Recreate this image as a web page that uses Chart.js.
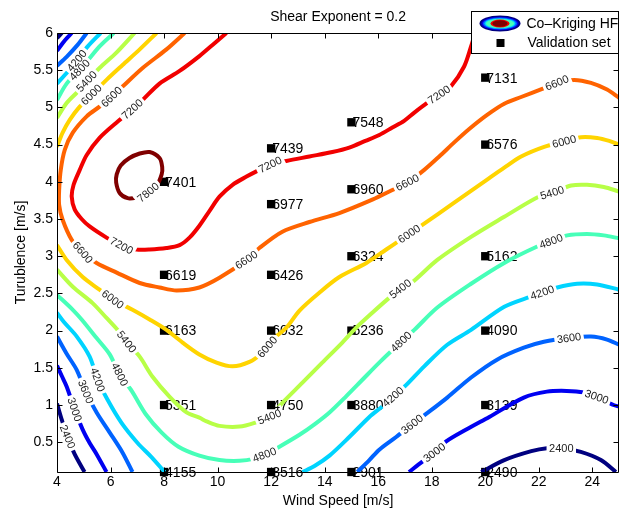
<!DOCTYPE html>
<html>
<head>
<meta charset="utf-8">
<title>Shear Exponent = 0.2</title>
<script src="https://cdn.jsdelivr.net/npm/chart.js@4.4.0/dist/chart.umd.min.js"></script>
<style>
  html, body { margin: 0; padding: 0; background: #fff; }
  #wrap { width: 625px; height: 511px; }
</style>
</head>
<body>
<div id="wrap"><canvas id="chart" width="625" height="511"></canvas></div>
<script>
// ---- axis ticks ----
const xTicks = [4, 6, 8, 10, 12, 14, 16, 18, 20, 22, 24];
const yTicks = [0.5, 1, 1.5, 2, 2.5, 3, 3.5, 4, 4.5, 5, 5.5, 6];

// ---- contour levels (power, kW) ----
const levels = [2400, 3000, 3600, 4200, 4800, 5400, 6000, 6600, 7200, 7800];

// contour polylines per level: [wind speed, turbulence]
const contour2400 = [
  [[4.18, 6.0], [4.0, 5.93]],
  [[4.0, 1.02], [4.18, 0.80], [4.36, 0.60], [4.66, 0.34], [5.03, 0.1]],
  [[19.85, 0.1], [20.71, 0.26], [21.72, 0.38], [22.3, 0.42], [22.84, 0.42], [23.57, 0.37], [24.32, 0.26], [24.88, 0.1]]
];
const contour3000 = [
  [[4.55, 6.0], [4.29, 5.90], [4.0, 5.76]],
  [[4.0, 1.53], [4.18, 1.39], [4.36, 1.25], [4.66, 0.94], [4.96, 0.67], [5.22, 0.49], [5.48, 0.34], [5.85, 0.1]],
  [[17.15, 0.1], [17.65, 0.24], [18.10, 0.36], [18.54, 0.51], [19.29, 0.67], [20.15, 0.84], [21.44, 1.10], [22.30, 1.18], [23.04, 1.19], [23.68, 1.17], [24.16, 1.11], [24.79, 1.00], [25.0, 0.98]]
];
const contour3600 = [
  [[5.11, 6.0], [4.77, 5.84], [4.36, 5.68], [4.0, 5.56]],
  [[4.0, 1.92], [4.36, 1.69], [4.74, 1.47], [5.07, 1.18], [5.48, 0.90], [5.97, 0.63], [6.45, 0.36], [6.82, 0.1]],
  [[15.22, 0.1], [15.67, 0.26], [16.04, 0.40], [16.67, 0.57], [17.27, 0.74], [17.79, 0.88], [18.58, 1.10], [19.47, 1.37], [20.44, 1.61], [21.44, 1.77], [22.19, 1.85], [23.13, 1.90], [23.95, 1.92], [24.55, 1.88], [25.0, 1.81]]
];
const contour4200 = [
  [[5.63, 6.0], [5.15, 5.82], [4.77, 5.64], [4.40, 5.48], [4.0, 5.32]],
  [[4.0, 2.24], [4.25, 2.12], [4.74, 1.92], [5.22, 1.65], [5.52, 1.34], [5.89, 1.07], [6.41, 0.76], [7.01, 0.49], [7.53, 0.30], [8.02, 0.1]],
  [[13.17, 0.1], [13.62, 0.18], [14.18, 0.32], [14.92, 0.57], [15.67, 0.84], [16.15, 0.98], [16.56, 1.11], [17.05, 1.27], [17.72, 1.52], [18.58, 1.81], [19.47, 2.01], [20.71, 2.32], [21.72, 2.46], [22.13, 2.51], [22.69, 2.58], [23.43, 2.63], [24.18, 2.62], [25.0, 2.55]]
];
const contour4800 = [
  [[6.12, 6.0], [5.59, 5.82], [4.92, 5.53], [4.36, 5.32], [4.0, 5.10]],
  [[4.0, 2.48], [4.59, 2.28], [4.92, 2.15], [5.48, 1.90], [5.97, 1.68], [6.34, 1.41], [6.79, 1.19], [7.31, 0.88], [7.91, 0.63], [8.54, 0.44], [9.32, 0.32], [10.07, 0.26], [10.82, 0.25], [11.38, 0.28], [11.75, 0.33], [12.31, 0.44], [13.06, 0.60], [13.62, 0.74], [14.18, 0.90], [14.81, 1.12], [15.41, 1.34], [16.04, 1.57], [16.86, 1.85], [17.35, 2.01], [18.21, 2.31], [19.47, 2.63], [20.71, 2.91], [21.94, 3.13], [22.46, 3.20], [23.06, 3.28], [23.80, 3.30], [24.43, 3.28], [25.0, 3.24]]
];
const contour5400 = [
  [[6.90, 6.0], [6.23, 5.74], [5.59, 5.53], [5.11, 5.35], [4.74, 5.20], [4.36, 5.06], [4.0, 4.86]],
  [[4.0, 2.82], [4.59, 2.59], [5.33, 2.37], [5.85, 2.17], [6.26, 2.01], [6.60, 1.85], [7.09, 1.65], [7.57, 1.38], [8.21, 1.11], [8.84, 0.90], [9.32, 0.83], [9.59, 0.78], [10.07, 0.72], [10.82, 0.71], [11.38, 0.76], [11.94, 0.84], [12.42, 1.03], [13.17, 1.30], [13.91, 1.57], [14.66, 1.84], [15.18, 2.04], [15.78, 2.24], [16.41, 2.44], [16.83, 2.56], [17.24, 2.64], [18.21, 2.95], [19.47, 3.26], [20.71, 3.53], [21.94, 3.79], [22.50, 3.85], [23.21, 3.95], [23.80, 3.96], [24.43, 3.93], [25.0, 3.87]]
];
const contour6000 = [
  [[7.72, 6.0], [7.09, 5.78], [6.45, 5.57], [5.85, 5.37], [5.29, 5.17], [4.85, 5.01], [4.47, 4.83], [4.21, 4.66], [4.0, 4.47]],
  [[4.0, 3.15], [4.36, 2.95], [4.96, 2.72], [5.59, 2.55], [6.08, 2.42], [6.82, 2.28], [7.46, 2.15], [8.09, 2.01], [8.69, 1.84], [9.32, 1.68], [9.96, 1.57], [10.56, 1.52], [11.19, 1.58], [11.64, 1.69], [11.86, 1.78], [12.12, 1.90], [12.57, 2.04], [13.06, 2.27], [13.80, 2.51], [14.55, 2.72], [15.56, 2.91], [16.30, 3.09], [16.79, 3.21], [17.16, 3.30], [17.65, 3.42], [18.84, 3.72], [20.07, 4.03], [20.71, 4.19], [21.34, 4.34], [22.20, 4.47], [22.95, 4.54], [23.58, 4.60], [24.18, 4.59], [24.63, 4.55], [25.0, 4.50]]
];
const contour6600 = [
  [[8.77, 6.0], [8.09, 5.78], [7.20, 5.53], [6.45, 5.28], [6.04, 5.14], [5.59, 5.01], [5.11, 4.88], [4.59, 4.66], [4.29, 4.43], [4.14, 4.16], [4.08, 3.89], [4.08, 3.69], [4.21, 3.49], [4.55, 3.22], [4.96, 3.05], [5.48, 2.91], [6.23, 2.78], [7.09, 2.64], [7.83, 2.58], [8.47, 2.54], [9.32, 2.58], [10.07, 2.71], [11.08, 2.95], [11.56, 3.11], [12.42, 3.33], [13.43, 3.46], [14.55, 3.58], [15.78, 3.76], [16.53, 3.89], [17.09, 3.99], [17.72, 4.16], [18.28, 4.34], [18.84, 4.53], [19.40, 4.71], [20.07, 4.90], [20.71, 5.05], [21.34, 5.14], [22.20, 5.26], [22.68, 5.33], [23.32, 5.37], [23.95, 5.33], [24.55, 5.24], [25.0, 5.13]]
];
const contour7200 = [
  [[10.33, 6.0], [9.81, 5.84], [9.32, 5.69], [8.58, 5.49], [7.83, 5.32], [7.20, 5.10], [6.71, 4.94], [6.27, 4.81], [5.59, 4.59], [5.11, 4.36], [4.85, 4.16], [4.62, 3.96], [4.55, 3.80], [4.66, 3.63], [4.92, 3.50], [5.22, 3.40], [5.85, 3.25], [6.41, 3.14], [6.97, 3.09], [7.46, 3.09], [8.09, 3.11], [8.58, 3.15], [8.95, 3.25], [9.32, 3.41], [9.70, 3.61], [10.07, 3.80], [10.56, 3.96], [11.08, 4.07], [11.45, 4.14], [11.97, 4.23], [12.57, 4.28], [13.43, 4.34], [14.29, 4.40], [14.92, 4.46], [15.52, 4.55], [16.04, 4.63], [16.53, 4.73], [16.97, 4.82], [17.35, 4.93], [17.83, 5.06], [18.28, 5.17], [18.73, 5.29], [19.21, 5.55], [19.47, 5.82], [19.62, 6.0]]
];
// closed loop, starting and ending under its label
const contour7800 = [
  [[7.35, 3.84], [6.97, 3.79], [6.64, 3.78], [6.34, 3.85], [6.21, 3.99], [6.23, 4.10], [6.38, 4.22], [6.71, 4.32], [7.09, 4.38], [7.46, 4.40], [7.83, 4.32], [7.93, 4.20], [7.91, 4.10], [7.72, 3.95], [7.35, 3.84]]
];

// inline label anchors per level
const labels2400 = [[4.36, 0.57], [22.84, 0.42]];
const labels3000 = [[4.66, 0.94], [18.10, 0.36], [24.16, 1.11]];
const labels3600 = [[5.07, 1.18], [17.27, 0.74], [23.13, 1.90]];
const labels4200 = [[4.74, 5.63], [5.52, 1.34], [16.56, 1.11], [22.13, 2.51]];
const labels4800 = [[4.88, 5.49], [6.34, 1.41], [11.75, 0.33], [16.86, 1.85], [22.46, 3.20]];
const labels5400 = [[5.11, 5.35], [6.60, 1.85], [11.94, 0.84], [16.83, 2.56], [22.50, 3.85]];
const labels6000 = [[5.29, 5.17], [6.08, 2.42], [11.86, 1.78], [17.16, 3.30], [22.95, 4.54]];
const labels6600 = [[6.04, 5.14], [4.96, 3.05], [11.08, 2.95], [17.09, 3.99], [22.68, 5.33]];
const labels7200 = [[6.83, 4.97], [6.41, 3.14], [11.97, 4.23], [18.28, 5.17]];
const labels7800 = [[7.40, 3.86]];

// ---- validation set ----
const valWind = [8, 8, 8, 8, 8, 12, 12, 12, 12, 12, 12, 15, 15, 15, 15, 15, 15, 20, 20, 20, 20, 20, 20];
const valTurb = [4, 2.75, 2, 1, 0.1, 4.45, 3.7, 2.75, 2, 1, 0.1, 4.8, 3.9, 3, 2, 1, 0.1, 5.4, 4.5, 3, 2, 1, 0.1];
const valPower = [7401, 6619, 6163, 5351, 4155, 7439, 6977, 6426, 6032, 4750, 3516, 7548, 6960, 6324, 5236, 3880, 2901, 7131, 6576, 5162, 4090, 3139, 2490];

// ---- styling ----
const FONT = '"Liberation Sans", Arial, Helvetica, sans-serif';
const LABEL_FONT = '11px ' + FONT;
const levelColors = {
  2400: 'rgb(0,0,128)', 3000: 'rgb(0,0,241)', 3600: 'rgb(0,99,255)', 4200: 'rgb(0,212,255)',
  4800: 'rgb(71,255,184)', 5400: 'rgb(184,255,71)', 6000: 'rgb(255,212,0)', 6600: 'rgb(255,99,0)',
  7200: 'rgb(241,0,0)', 7800: 'rgb(128,0,0)'
};
const contourLines = {
  2400: contour2400, 3000: contour3000, 3600: contour3600, 4200: contour4200, 4800: contour4800,
  5400: contour5400, 6000: contour6000, 6600: contour6600, 7200: contour7200, 7800: contour7800
};
const contourLabels = {
  2400: labels2400, 3000: labels3000, 3600: labels3600, 4200: labels4200, 4800: labels4800,
  5400: labels5400, 6000: labels6000, 6600: labels6600, 7200: labels7200, 7800: labels7800
};

Chart.defaults.font.family = FONT;
Chart.defaults.color = '#000';

const datasets = [];
levels.forEach(level => {
  contourLines[level].forEach(seg => {
    datasets.push({
      level: level,
      data: seg.map(([x, y]) => ({x, y})),
      showLine: true,
      borderColor: levelColors[level],
      borderWidth: 4,
      borderJoinStyle: 'round',
      tension: 0.3,
      pointRadius: 0,
      pointHoverRadius: 0,
      fill: false
    });
  });
});
datasets.push({
  validation: true,
  data: valWind.map((x, i) => ({x, y: valTurb[i]})),
  pointStyle: 'rect',
  pointRadius: 5.9,
  pointHoverRadius: 5.9,
  backgroundColor: '#000',
  borderColor: '#000',
  borderWidth: 0,
  showLine: false,
  clip: false
});

function toPx(chart, p) {
  return [chart.scales.x.getPixelForValue(p[0]), chart.scales.y.getPixelForValue(p[1])];
}

// place each label on its contour and orient it along the line
function labelPlacements(chart, level) {
  const ctx = chart.ctx;
  ctx.save();
  ctx.font = LABEL_FONT;
  const w = ctx.measureText(String(level)).width;
  ctx.restore();
  return contourLabels[level].map(pos => {
    const p = toPx(chart, pos);
    let best = null;
    contourLines[level].forEach(seg => {
      for (let i = 0; i < seg.length - 1; i++) {
        const a = toPx(chart, seg[i]);
        const b = toPx(chart, seg[i + 1]);
        const dx = b[0] - a[0], dy = b[1] - a[1];
        const len2 = dx * dx + dy * dy || 1;
        let t = ((p[0] - a[0]) * dx + (p[1] - a[1]) * dy) / len2;
        t = Math.max(0, Math.min(1, t));
        const qx = a[0] + t * dx, qy = a[1] + t * dy;
        const d = Math.hypot(p[0] - qx, p[1] - qy);
        if (!best || d < best.d) best = {d, x: qx, y: qy, ang: Math.atan2(dy, dx)};
      }
    });
    let ang = best.ang;
    if (ang > Math.PI / 2) ang -= Math.PI;
    if (ang <= -Math.PI / 2) ang += Math.PI;
    return {x: best.x, y: best.y, ang, w};
  });
}

const contourPlot = {
  id: 'contourPlot',
  beforeDatasetDraw(chart, args) {
    const ds = chart.data.datasets[args.index];
    const ctx = chart.ctx;
    if (ds.level !== undefined) {
      // cut a gap in the line under each inline label
      ctx.save();
      ctx.beginPath();
      ctx.rect(0, 0, chart.width, chart.height);
      labelPlacements(chart, ds.level).forEach(l => {
        const hw = l.w / 2 + 2.5, hh = 7;
        const c = Math.cos(l.ang), s = Math.sin(l.ang);
        const pts = [[-hw, -hh], [hw, -hh], [hw, hh], [-hw, hh]].map(([u, v]) => [l.x + u * c - v * s, l.y + u * s + v * c]);
        ctx.moveTo(pts[0][0], pts[0][1]);
        for (let i = 1; i < 4; i++) ctx.lineTo(pts[i][0], pts[i][1]);
        ctx.closePath();
      });
      ctx.clip('evenodd');
    } else if (ds.validation) {
      // power values next to the validation markers
      ctx.save();
      ctx.font = '14px ' + FONT;
      ctx.fillStyle = '#000';
      ctx.textAlign = 'left';
      ctx.textBaseline = 'middle';
      ds.data.forEach((d, i) => {
        const p = toPx(chart, [d.x, d.y]);
        ctx.fillText(String(valPower[i]), p[0] + 1, p[1] + 1);
      });
      ctx.restore();
    }
  },
  afterDatasetDraw(chart, args) {
    const ds = chart.data.datasets[args.index];
    if (ds.level !== undefined) chart.ctx.restore();
  },
  afterDatasetsDraw(chart) {
    const ctx = chart.ctx;
    // contour level labels
    ctx.save();
    ctx.font = LABEL_FONT;
    ctx.fillStyle = '#222';
    ctx.textAlign = 'center';
    ctx.textBaseline = 'middle';
    levels.forEach(level => {
      labelPlacements(chart, level).forEach(l => {
        ctx.save();
        ctx.translate(l.x, l.y);
        ctx.rotate(l.ang);
        ctx.fillText(String(level), 0, 0.5);
        ctx.restore();
      });
    });
    ctx.restore();

    // axes box and inward ticks
    const {left, right, top, bottom} = chart.chartArea;
    const xs = chart.scales.x, ys = chart.scales.y;
    const L = Math.round(left) + 0.5, R = Math.round(right) - 0.5;
    const T = Math.round(top) + 0.5, B = Math.round(bottom) + 0.5;
    const tl = 5;
    ctx.save();
    ctx.strokeStyle = '#000';
    ctx.lineWidth = 1;
    ctx.beginPath();
    ctx.rect(L, T, R - L, B - T);
    xTicks.forEach(v => {
      const x = Math.round(xs.getPixelForValue(v)) + 0.5;
      ctx.moveTo(x, B); ctx.lineTo(x, B - tl);
      ctx.moveTo(x, T); ctx.lineTo(x, T + tl);
    });
    yTicks.forEach(v => {
      const y = Math.round(ys.getPixelForValue(v)) + 0.5;
      ctx.moveTo(L, y); ctx.lineTo(L + tl, y);
      ctx.moveTo(R, y); ctx.lineTo(R - tl, y);
    });
    ctx.stroke();
    ctx.restore();
  },
  afterDraw(chart) {
    // legend box
    const ctx = chart.ctx;
    const right = Math.round(chart.chartArea.right) - 0.5;
    const bx = right - 147, by = 11.5, bw = 147, bh = 42;
    ctx.save();
    ctx.fillStyle = '#fff';
    ctx.fillRect(bx, by, bw, bh);
    ctx.strokeStyle = '#000';
    ctx.lineWidth = 1;
    ctx.strokeRect(bx, by, bw, bh);

    // contour icon: nested jet-coloured ellipses
    const cx = bx + 28.5, cy = by + 12;
    const rings = [
      [20.5, 8, 'rgb(0,0,128)'], [18.5, 6.8, 'rgb(0,0,241)'], [17, 6, 'rgb(0,99,255)'],
      [15.5, 5.3, 'rgb(0,212,255)'], [14, 4.6, 'rgb(71,255,184)'], [9.5, 4, 'rgb(241,0,0)'], [7.5, 3.2, 'rgb(128,0,0)']
    ];
    rings.forEach(([rx, ry, col]) => {
      ctx.beginPath();
      ctx.ellipse(cx, cy, rx, ry, 0, 0, Math.PI * 2);
      ctx.fillStyle = col;
      ctx.fill();
    });
    // validation marker
    ctx.fillStyle = '#000';
    ctx.fillRect(cx - 3.5, by + 27.5, 8, 8);

    ctx.font = '14px ' + FONT;
    ctx.fillStyle = '#000';
    ctx.textAlign = 'left';
    ctx.textBaseline = 'middle';
    ctx.fillText('Co\u2013Kriging HF', bx + 55, by + 13);
    ctx.fillText('Validation set', bx + 56, by + 31.5);
    ctx.restore();
  }
};

new Chart(document.getElementById('chart'), {
  type: 'scatter',
  data: {datasets},
  options: {
    responsive: false,
    devicePixelRatio: 1,
    animation: false,
    events: [],
    layout: {padding: {left: 0, right: 5, top: 0, bottom: 0}},
    plugins: {legend: {display: false}, tooltip: {enabled: false}, title: {display: false}},
    scales: {
      x: {
        type: 'linear', position: 'bottom', min: 4, max: 25,
        afterBuildTicks: s => { s.ticks = xTicks.map(v => ({value: v})); },
        afterFit: s => { s.height = 39; },
        ticks: {font: {size: 14}, padding: 2, maxRotation: 0, autoSkip: false, callback: v => String(v)},
        grid: {display: false, drawTicks: false},
        border: {display: false},
        title: {display: true, text: 'Wind Speed [m/s]', font: {size: 14}, padding: {top: 0, bottom: 1}}
      },
      x2: {
        type: 'linear', position: 'top', min: 4, max: 25,
        afterFit: s => { s.height = 33; },
        ticks: {display: false},
        grid: {display: false, drawTicks: false},
        border: {display: false},
        title: {display: true, text: 'Shear Exponent = 0.2', font: {size: 14}, padding: {top: 9, bottom: 0}}
      },
      y: {
        type: 'linear', position: 'left', min: 0.1, max: 6,
        afterBuildTicks: s => { s.ticks = yTicks.map(v => ({value: v})); },
        afterFit: s => { s.width = 57; },
        ticks: {font: {size: 14}, padding: 4, autoSkip: false, callback: v => String(v)},
        grid: {display: false, drawTicks: false},
        border: {display: false},
        title: {display: true, text: 'Turublence [m/s]', font: {size: 14}, padding: {top: 12.6, bottom: 0}}
      }
    }
  },
  plugins: [contourPlot]
});
</script>
</body>
</html>
